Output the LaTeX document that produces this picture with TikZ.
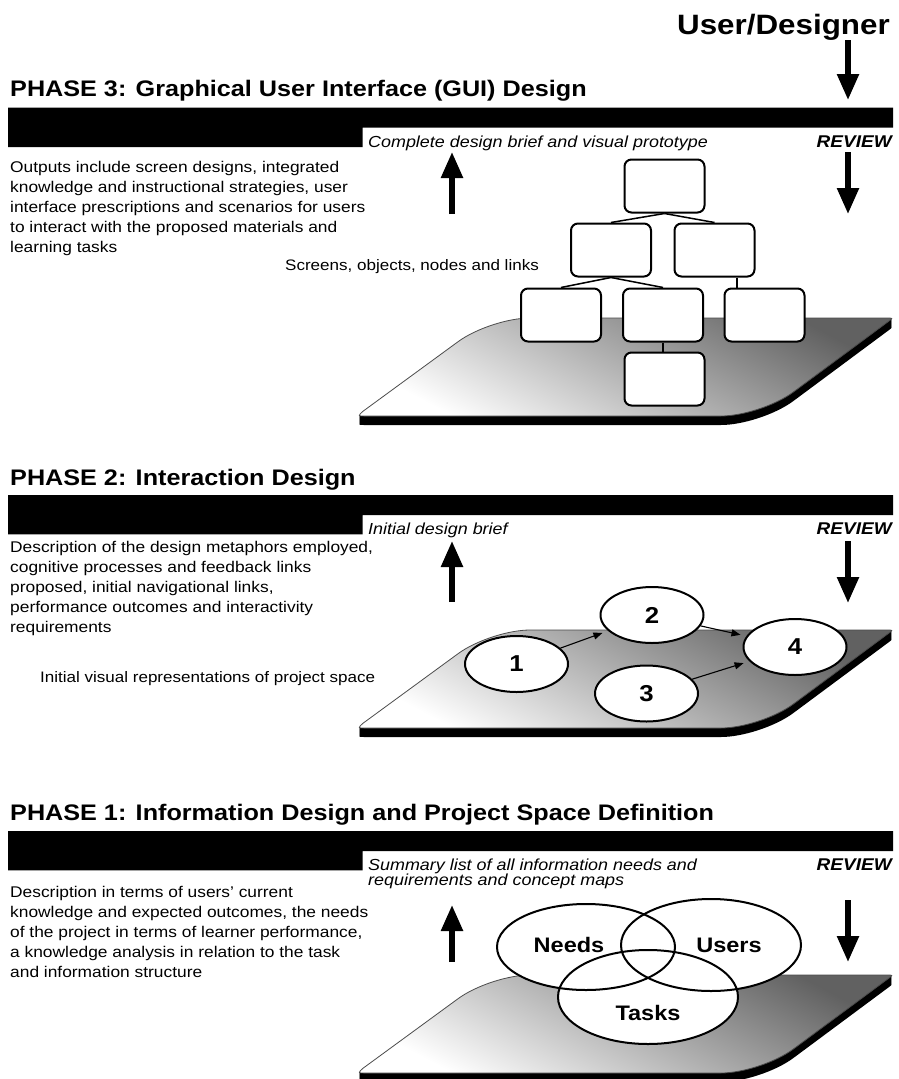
\documentclass[tikz,border=0pt]{standalone}
\usepackage{fontspec}
\setmainfont{Liberation Sans}[FakeStretch=1.12]
\usetikzlibrary{arrows.meta,shapes.geometric}
\begin{document}
\begin{tikzpicture}[x=1pt,y=1pt,
  phasetitle/.style={anchor=base west,inner sep=0pt,font=\bfseries\fontsize{22.5}{26}\selectfont},
  % multi-line texts are anchored on the baseline of their last line
  bodytext/.style={anchor=base west,inner sep=0pt,align=left,font=\fontsize{15.5}{20}\selectfont},
  outcome/.style={anchor=base west,inner sep=0pt,align=left,font=\itshape\fontsize{16}{15}\selectfont},
  reviewtag/.style={anchor=base east,inner sep=0pt,font=\bfseries\itshape\fontsize{17}{20}\selectfont},
  caption/.style={anchor=base west,inner sep=0pt,font=\fontsize{15.2}{18}\selectfont},
  bigarrow/.style={line width=5.5pt,-{Triangle[length=26pt,width=21pt]}},
  screen/.style={draw,line width=2pt,rounded corners=7pt,fill=white,minimum width=80pt,minimum height=53pt,inner sep=0pt},
  treelink/.style={line width=1.5pt},
  stage/.style={ellipse,draw,line width=2pt,fill=white,minimum width=103pt,minimum height=56pt,inner sep=0pt,font=\bfseries\fontsize{23}{23}\selectfont},
  flow/.style={line width=1.1pt,shorten >=6pt,-{Triangle[length=9pt,width=7pt]}},
  setlabel/.style={inner sep=0pt,font=\bfseries\fontsize{21}{21}\selectfont},
  vennline/.style={line width=2pt},
  % black header bar with a step cut out under the outcome text
  headerbar/.pic={
    \fill (8,-107.7) -- (893,-107.7) -- (893,-127.7) -- (362.7,-127.7)
      -- (362.7,-147) -- (8,-147) -- cycle;
  },
  % shaded slab with a black extruded edge
  platform/.pic={
    \foreach \s in {1,...,9}{
      \fill[black,yshift=-\s pt] (364,-416) .. controls (358,-416) .. (362.8,-411.4)
        -- (457.9,-341.8) .. controls (475.6,-328.7) and (508,-318) .. (530,-318)
        -- (887,-318) .. controls (893,-318) .. (888.2,-321.6)
        -- (793.1,-392.2) .. controls (775.4,-405.3) and (743,-416) .. (721,-416) -- cycle;
    }
    \shade[draw=black!70,line width=0.8pt,top color=black!62,bottom color=white,shading angle=-28]
      (364,-416) .. controls (358,-416) .. (362.8,-411.4)
      -- (457.9,-341.8) .. controls (475.6,-328.7) and (508,-318) .. (530,-318)
      -- (887,-318) .. controls (893,-318) .. (888.2,-321.6)
      -- (793.1,-392.2) .. controls (775.4,-405.3) and (743,-416) .. (721,-416) -- cycle;
  }
]
\useasboundingbox (0,0) rectangle (899,-1079);
\fill[white] (0,0) rectangle (899,-1079);

% ---------- top: user/designer entry ----------
\node[anchor=base east,inner sep=0pt,font=\bfseries\fontsize{28}{30}\selectfont] (user) at (890,-34) {User/Designer};
\coordinate (userA) at (848,-40);
\coordinate (userB) at (848,-100);
\draw[bigarrow] (userA) -- (userB);

% ---------- PHASE 3 ----------
\node[phasetitle] (t3) at (10,-96) {PHASE 3: Graphical User Interface (GUI) Design};
\pic at (0,0) {headerbar};
\node[outcome] (o3) at (368,-147) {Complete design brief and visual prototype};
\node[reviewtag] (r3) at (892,-147) {REVIEW};
\node[bodytext] (d3) at (10,-252) {Outputs include screen designs, integrated\\knowledge and instructional strategies, user\\interface prescriptions and scenarios for users\\to interact with the proposed materials and\\learning tasks};
\coordinate (up3a) at (452,-214);
\coordinate (up3b) at (452,-152);
\draw[bigarrow] (up3a) -- (up3b);
\coordinate (rv3a) at (848,-152);
\coordinate (rv3b) at (848,-214);
\draw[bigarrow] (rv3a) -- (rv3b);
\node[caption] (c3) at (285,-270) {Screens, objects, nodes and links};
\pic at (0,0) {platform};

% screen hierarchy
\node[screen] (sTop) at (664.5,-186) {};
\node[screen] (sL) at (611,-250) {};
\node[screen] (sR) at (714.5,-250) {};
\node[screen] (sA) at (561,-315) {};
\node[screen] (sB) at (663,-315) {};
\node[screen] (sC) at (764.5,-315) {};
\node[screen] (sD) at (664.5,-379) {};
\draw[treelink] (sTop.south) -- (sL.north);
\draw[treelink] (sTop.south) -- (sR.north);
\draw[treelink] (sL.south) -- (sA.north);
\draw[treelink] (sL.south) -- (sB.north);
\draw[treelink] ([xshift=22.5pt]sR.south) -- ([xshift=22.5pt]sR.south |- sC.north);
\draw[treelink] (sB.south) -- (sB.south |- sD.north);

% ---------- PHASE 2 ----------
\node[phasetitle] (t2) at (10,-485) {PHASE 2: Interaction Design};
\pic at (0,-387.3) {headerbar};
\node[outcome] (o2) at (368,-534) {Initial design brief};
\node[reviewtag] (r2) at (892,-534) {REVIEW};
\node[bodytext] (d2) at (10,-632) {Description of the design metaphors employed,\\cognitive processes and feedback links\\proposed, initial navigational links,\\performance outcomes and interactivity\\requirements};
\coordinate (up2a) at (452,-602);
\coordinate (up2b) at (452,-541);
\draw[bigarrow] (up2a) -- (up2b);
\coordinate (rv2a) at (848,-541);
\coordinate (rv2b) at (848,-603);
\draw[bigarrow] (rv2a) -- (rv2b);
\node[caption] (c2) at (40,-682) {Initial visual representations of project space};
\pic at (0,-312) {platform};

\node[stage] (n1) at (516.5,-664) {1};
\node[stage] (n2) at (652,-615) {2};
\node[stage] (n3) at (646.5,-693.5) {3};
\node[stage] (n4) at (795,-647) {4};
\draw[flow] (n1) -- (n2);
\draw[flow] (n2) -- (n4);
\draw[flow] (n3) -- (n4);

% ---------- PHASE 1 ----------
\node[phasetitle] (t1) at (10,-820) {PHASE 1: Information Design and Project Space Definition};
\pic at (0,-723.3) {headerbar};
\node[outcome] (o1) at (368,-885.5) {Summary list of all information needs and\\requirements and concept maps};
\node[reviewtag] (r1) at (892,-870.5) {REVIEW};
\node[bodytext] (d1) at (10,-977) {Description in terms of users' current\\knowledge and expected outcomes, the needs\\of the project in terms of learner performance,\\a knowledge analysis in relation to the task\\and information structure};
\coordinate (up1a) at (452,-962);
\coordinate (up1b) at (452,-905);
\draw[bigarrow] (up1a) -- (up1b);
\coordinate (rv1a) at (848,-900);
\coordinate (rv1b) at (848,-962);
\draw[bigarrow] (rv1a) -- (rv1b);
\pic at (0,-657) {platform};

% overlapping sets
\fill[white] (586,-947) ellipse [x radius=89, y radius=43];
\fill[white] (711,-945) ellipse [x radius=90, y radius=46];
\fill[white] (648,-997) ellipse [x radius=90, y radius=47];
\draw[vennline] (586,-947) ellipse [x radius=89, y radius=43];
\draw[vennline] (711,-945) ellipse [x radius=90, y radius=46];
\draw[vennline] (648,-997) ellipse [x radius=90, y radius=47];
\node[setlabel] (needs) at (569,-945) {Needs};
\node[setlabel] (users) at (729,-945) {Users};
\node[setlabel] (tasks) at (648,-1013) {Tasks};
\end{tikzpicture}
\end{document}
